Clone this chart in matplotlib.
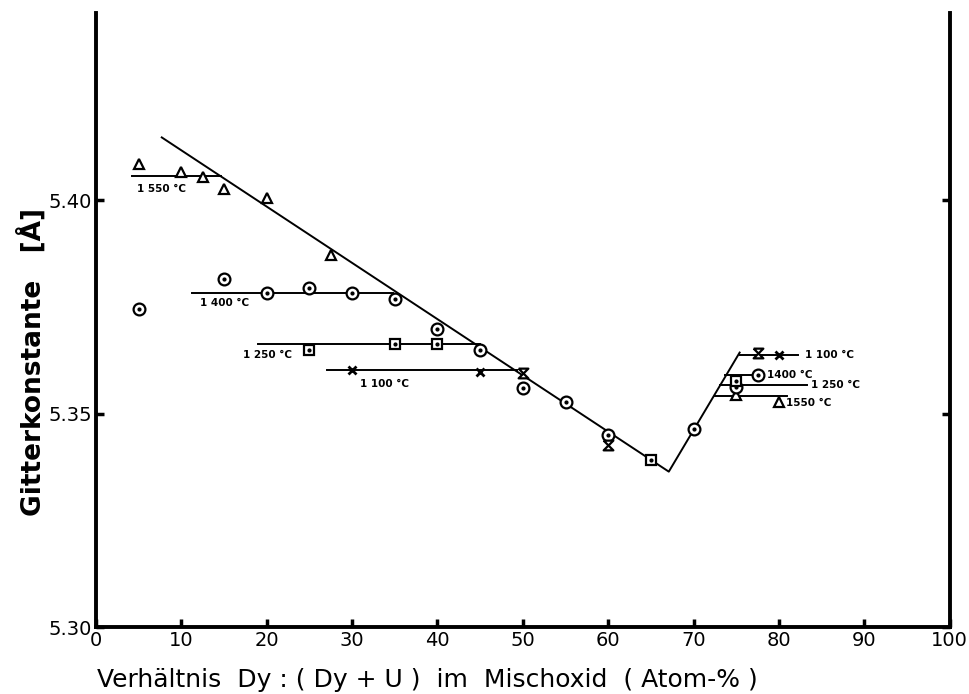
import matplotlib
matplotlib.use("Agg")
import matplotlib.pyplot as plt

# 1550 °C (triangles)
tri_x = [5, 10, 12.5, 15, 20, 27.5, 75, 80]
tri_y = [5.4085, 5.4067, 5.4055, 5.4027, 5.4004, 5.3872, 5.3544, 5.3528]

# 1400 °C (circles with dot)
circ_x = [5, 15, 20, 25, 30, 35, 40, 45, 50, 55, 60, 70, 75, 77.5]
circ_y = [5.3746, 5.3816, 5.3783, 5.3795, 5.3783, 5.3769, 5.3699, 5.3648,
          5.3561, 5.3526, 5.3451, 5.3463, 5.3563, 5.3591]

# 1250 °C (squares with dot)
sq_x = [25, 35, 40, 65, 75]
sq_y = [5.3650, 5.3662, 5.3662, 5.3392, 5.3577]

# 1100 °C (crosses and hourglass marks)
cross_x = [30, 45, 80]
cross_y = [5.3603, 5.3598, 5.3638]
hour_x = [50, 60, 77.5]
hour_y = [5.3594, 5.3427, 5.3643]

# V shaped main curve
curve_x = [7.7, 67.1, 75.4]
curve_y = [5.4147, 5.3364, 5.3643]

# isotherm lines: label, x start, x end, y
iso_left = [("1 550 °C", 4.2, 14.6, 5.4057),
            ("1 400 °C", 11.2, 34.8, 5.3782),
            ("1 250 °C", 19.0, 45.0, 5.3664),
            ("1 100 °C", 27.0, 49.3, 5.3601)]
iso_right = [("1 100 °C", 75.4, 82.2, 5.3638),
             ("1400 °C", 73.7, 77.5, 5.3591),
             ("1 250 °C", 73.1, 83.3, 5.3568),
             ("1550 °C", 72.5, 81.0, 5.3542)]

# label positions (x, y, text)
left_labels = [(4.8, 5.4025, "1 550 °C"), (12.2, 5.3758, "1 400 °C"),
               (17.2, 5.3638, "1 250 °C"), (30.9, 5.3570, "1 100 °C")]
right_labels = [(83.0, 5.3638, "1 100 °C"), (78.6, 5.3591, "1400 °C"),
                (83.8, 5.3568, "1 250 °C"), (80.8, 5.3524, "1550 °C")]

x_ticks = [0, 10, 20, 30, 40, 50, 60, 70, 80, 90, 100]
y_ticks = [5.30, 5.35, 5.40]
y_ticklabels = ["5.30", "5.35", "5.40"]


def main():
    fig = plt.figure(figsize=(9.7, 6.94), dpi=100)
    ax = fig.add_axes([0.099, 0.0965, 0.880, 0.8845])

    ax.plot(curve_x, curve_y, color="black", lw=1.4)
    for lab, x0, x1, y in iso_left + iso_right:
        ax.plot([x0, x1], [y, y], color="black", lw=1.4)

    # markers
    ax.plot(tri_x, tri_y, ls="none", marker="^", ms=7, mfc="white", mec="black", mew=1.6)
    ax.plot(circ_x, circ_y, ls="none", marker="o", ms=8.5, mfc="white", mec="black", mew=1.6)
    ax.plot(circ_x, circ_y, ls="none", marker="o", ms=2, color="black")
    ax.plot(sq_x, sq_y, ls="none", marker="s", ms=7.5, mfc="white", mec="black", mew=1.6)
    ax.plot(sq_x, sq_y, ls="none", marker="o", ms=2, color="black")
    ax.plot(cross_x, cross_y, ls="none", marker="x", ms=6, color="black", mew=2)
    hourglass = [(-1, 1), (1, 1), (-1, -1), (1, -1), (-1, 1)]
    ax.plot(hour_x, hour_y, ls="none", marker=hourglass, ms=7, mfc="white", mec="black", mew=1.6)

    for x, y, t in left_labels + right_labels:
        ax.text(x, y, t, fontsize=7.5, fontweight="bold", ha="left", va="center")

    ax.set_xlim(0, 100)
    ax.set_ylim(5.30, 5.4438)
    ax.set_xticks(x_ticks)
    ax.set_yticks(y_ticks)
    ax.set_yticklabels(y_ticklabels)
    ax.tick_params(direction="in", length=6, width=2.5, labelsize=14, pad=3)
    ax.tick_params(axis="y", right=True)

    ax.spines["top"].set_visible(False)
    for s in ["left", "right", "bottom"]:
        ax.spines[s].set_linewidth(2.8)

    # axis titles placed like the original (x title starts at the y axis)
    fig.text(97 / 970, 1 - 680 / 694, "Verhältnis  Dy : ( Dy + U )  im  Mischoxid  ( Atom-% )",
             fontsize=18, ha="left", va="center")
    fig.text(32 / 970, 1 - 362 / 694, "Gitterkonstante   [Å]", fontsize=19,
             fontweight="bold", rotation=90, ha="center", va="center")

    fig.savefig("out.png", dpi=100)


if __name__ == "__main__":
    main()
